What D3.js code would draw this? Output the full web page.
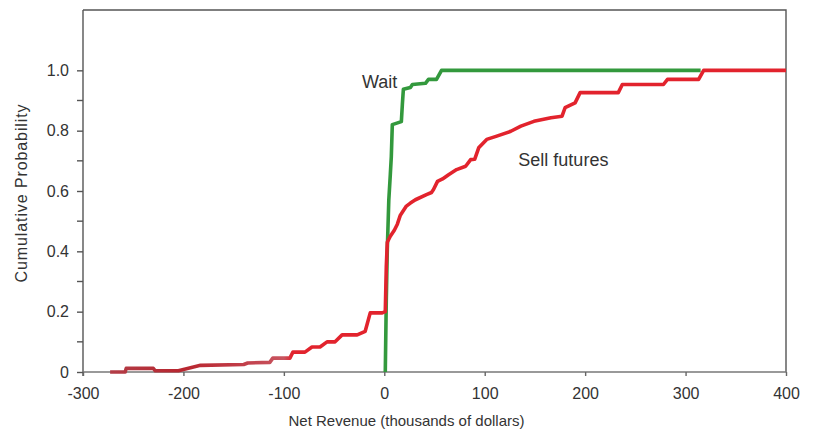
<!DOCTYPE html>
<html>
<head>
<meta charset="utf-8">
<script src="https://cdn.jsdelivr.net/npm/d3@7"></script>
<style>
  html, body { margin: 0; padding: 0; background: #ffffff; }
  svg { display: block; }
  text { font-family: "Liberation Sans", Arial, Helvetica, sans-serif; fill: #333; }
</style>
</head>
<body>
<svg id="chart" width="813" height="433"></svg>
<script>
// Net revenue (thousands of dollars) and cumulative probability for each strategy
const waitRevenue = [1, 2, 3, 4.5, 6, 7, 8, 17, 18, 19, 26, 28, 41, 44, 52, 57, 315];
const waitProb    = [0, 0.24, 0.405, 0.57, 0.654, 0.714, 0.82, 0.83, 0.887, 0.937, 0.943, 0.953, 0.957, 0.97, 0.97, 1.0, 1.0];

const sellRevenue = [-273, -258, -257, -230, -228, -205, -183, -140, -136, -114, -111, -94, -91, -79, -72, -64, -57, -49, -42,
                     -27, -19, -14, -2, 1, 2, 3, 6, 10, 13, 16, 22, 26, 31, 42, 47, 49, 53, 58, 64, 72, 81, 86, 90,
                     94, 102, 112, 126, 136, 149, 166, 177, 180, 190, 195, 233, 237, 278, 282, 313, 318, 400];
const sellProb    = [0, 0, 0.012, 0.012, 0.004, 0.004, 0.022, 0.025, 0.03, 0.032, 0.046, 0.046, 0.066, 0.066, 0.083, 0.083, 0.1, 0.1, 0.123,
                     0.123, 0.135, 0.196, 0.196, 0.2, 0.35, 0.43, 0.45, 0.47, 0.49, 0.52, 0.55, 0.56, 0.571, 0.588, 0.595, 0.605, 0.632, 0.64, 0.654, 0.671, 0.682, 0.704, 0.705,
                     0.743, 0.771, 0.782, 0.798, 0.815, 0.831, 0.843, 0.848, 0.876, 0.892, 0.926, 0.926, 0.953, 0.953, 0.97, 0.97, 1.0, 1.0];

const xTickValues = [-300, -200, -100, 0, 100, 200, 300, 400];
const xTickLabels = ["-300", "-200", "-100", "0", "100", "200", "300", "400"];
const yTickValues = [0, 0.2, 0.4, 0.6, 0.8, 1.0];
const yTickLabels = ["0", "0.2", "0.4", "0.6", "0.8", "1.0"];
const yMinorTicks = [0.1, 0.3, 0.5, 0.7, 0.9];

const seriesLabels = [
  { text: "Wait", revenue: 13, prob: 0.943, anchor: "end" },
  { text: "Sell futures", revenue: 133.5, prob: 0.684, anchor: "start" }
];

const svg = d3.select("#chart");
const plotLeft = 83, plotRight = 786, plotTop = 10, plotBottom = 372;

const x = d3.scaleLinear().domain([-300, 400]).range([plotLeft, plotRight]);
const y = d3.scaleLinear().domain([0, 1.2]).range([plotBottom, plotTop]);

// frame: top and right edges
svg.append("path")
  .attr("d", `M${plotLeft},${plotTop}H${plotRight}V${plotBottom}`)
  .attr("fill", "none").attr("stroke", "#555").attr("stroke-width", 1.4);

// y axis with major labelled ticks
const yAxis = svg.append("g").attr("transform", `translate(${plotLeft},0)`)
  .call(d3.axisLeft(y).tickValues(yTickValues).tickSize(6).tickPadding(8)
    .tickFormat((d, i) => yTickLabels[i]));
yAxis.select(".domain").attr("d", `M0,${plotTop}V${plotBottom + 4}`).attr("stroke", "#555").attr("stroke-width", 1.4);
yAxis.selectAll(".tick line").attr("stroke", "#555").attr("stroke-width", 1.4);
yAxis.selectAll(".tick text").style("font-size", "16px").attr("fill", "#333");

// minor y ticks
svg.append("g").selectAll("line").data(yMinorTicks).join("line")
  .attr("x1", plotLeft - 6).attr("x2", plotLeft)
  .attr("y1", d => y(d)).attr("y2", d => y(d))
  .attr("stroke", "#555").attr("stroke-width", 1.4);

// x axis
const xAxis = svg.append("g").attr("transform", `translate(0,${plotBottom})`)
  .call(d3.axisBottom(x).tickValues(xTickValues).tickSize(4).tickPadding(12)
    .tickFormat((d, i) => xTickLabels[i]));
xAxis.select(".domain").attr("d", `M${plotLeft},0H${plotRight}`).attr("stroke", "#777").attr("stroke-width", 1.6);
xAxis.selectAll(".tick line").attr("stroke", "#666").attr("stroke-width", 1.4);
xAxis.selectAll(".tick text").style("font-size", "16px").attr("fill", "#333");

// axis titles
svg.append("text")
  .attr("x", (plotLeft + plotRight) / 2 - 28).attr("y", 426)
  .attr("text-anchor", "middle").style("font-size", "15px")
  .text("Net Revenue (thousands of dollars)");
svg.append("text")
  .attr("transform", `translate(27,${(100 + 286) / 2}) rotate(-90)`)
  .attr("text-anchor", "middle").style("font-size", "16px").style("letter-spacing", "0.9px")
  .text("Cumulative Probability");

// darker tone on the far left tail of the futures curve
const defs = svg.append("defs");
const grad = defs.append("linearGradient").attr("id", "sellStroke")
  .attr("gradientUnits", "userSpaceOnUse")
  .attr("x1", x(-300)).attr("x2", x(400)).attr("y1", 0).attr("y2", 0);
[[-300, "#b04550"], [-200, "#b8262f"], [-150, "#c03a45"], [-100, "#c85560"], [-92, "#e2232d"], [400, "#e2232d"]]
  .forEach(([v, c]) => grad.append("stop").attr("offset", (x(v) - x(-300)) / (x(400) - x(-300))).attr("stop-color", c));

const line = d3.line().x(d => x(d[0])).y(d => y(d[1]));

svg.append("path")
  .datum(d3.zip(waitRevenue, waitProb))
  .attr("d", line)
  .attr("fill", "none").attr("stroke", "#33993d").attr("stroke-width", 3.6)
  .attr("stroke-linejoin", "round");

svg.append("path")
  .datum(d3.zip(sellRevenue, sellProb))
  .attr("d", line)
  .attr("fill", "none").attr("stroke", "url(#sellStroke)").attr("stroke-width", 3.6)
  .attr("stroke-linejoin", "round");

// in-plot series labels
svg.append("g").selectAll("text").data(seriesLabels).join("text")
  .attr("x", d => x(d.revenue)).attr("y", d => y(d.prob))
  .attr("text-anchor", d => d.anchor)
  .style("font-size", "18px")
  .text(d => d.text);
</script>
</body>
</html>
